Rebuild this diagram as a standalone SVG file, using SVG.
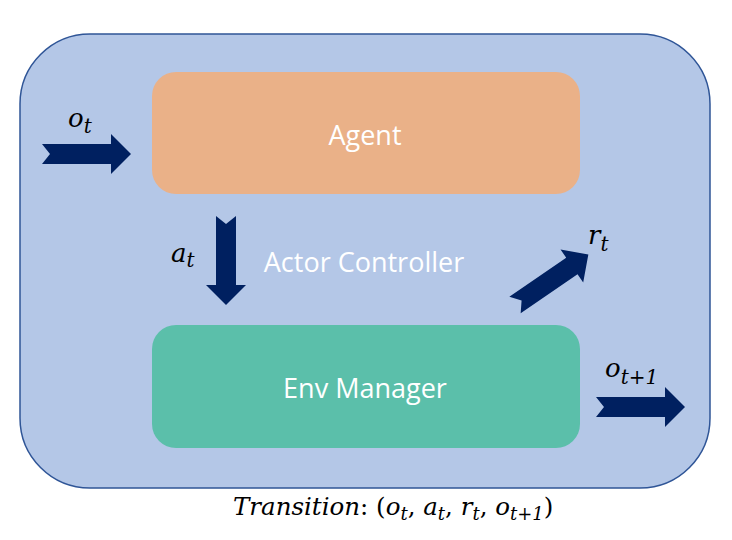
<svg xmlns="http://www.w3.org/2000/svg" width="732" height="540" viewBox="0 0 732 540">
<style>
.lbl{font-family:"Open Sans",Lato,sans-serif;font-size:27px;fill:#fff;text-anchor:middle}
.m{font-family:"DejaVu Serif",serif;font-style:italic;fill:#000}
.arr{fill:#002060}
</style>
<defs>
<path id="arrowShape" d="M0,-10 H69 V-20 L89,0 L69,20 V10 H0 L8,0 Z"/>
</defs>
<rect x="0" y="0" width="732" height="540" fill="#fff"/>
<g id="frame">
<rect x="20" y="34" width="690" height="454" rx="70" ry="70" fill="#B4C7E7" stroke="#2F5597" stroke-width="1.5"/>
</g>
<g id="agent">
<rect x="152" y="72" width="428" height="122" rx="24" ry="24" fill="#EAB188"/>
<text class="lbl" x="365" y="145">Agent</text>
</g>
<g id="env">
<rect x="152" y="325" width="428" height="123" rx="24" ry="24" fill="#5BBFAA"/>
<text class="lbl" x="365" y="398">Env Manager</text>
</g>
<g id="actor-controller">
<text class="lbl" x="364" y="272">Actor Controller</text>
</g>
<g id="connectors">
<use href="#arrowShape" class="arr" transform="translate(42,154)"/>
<use href="#arrowShape" class="arr" transform="translate(226,216) rotate(90)"/>
<use href="#arrowShape" class="arr" transform="translate(515,305) rotate(-34.5)"/>
<use href="#arrowShape" class="arr" transform="translate(596,407)"/>
</g>
<g id="labels">
<text class="m" font-size="26" x="68" y="127">o<tspan font-size="20" dy="6">t</tspan></text>
<text class="m" font-size="26" x="171" y="262">a<tspan font-size="20" dy="5">t</tspan></text>
<text class="m" font-size="26" x="588" y="244">r<tspan font-size="20" dy="7">t</tspan></text>
<text class="m" font-size="26" x="605" y="377">o<tspan font-size="20" dy="7">t+1</tspan></text>
<text class="m" font-size="24.5" x="233" y="515">Transition<tspan font-style="normal">: (</tspan>o<tspan font-size="18" dy="5">t</tspan><tspan dy="-5" font-style="normal">, </tspan>a<tspan font-size="18" dy="5">t</tspan><tspan dy="-5" font-style="normal">, </tspan>r<tspan font-size="18" dy="5">t</tspan><tspan dy="-5" font-style="normal">, </tspan>o<tspan font-size="18" dy="5">t+1</tspan><tspan dy="-5" font-style="normal">)</tspan></text>
</g>
</svg>
